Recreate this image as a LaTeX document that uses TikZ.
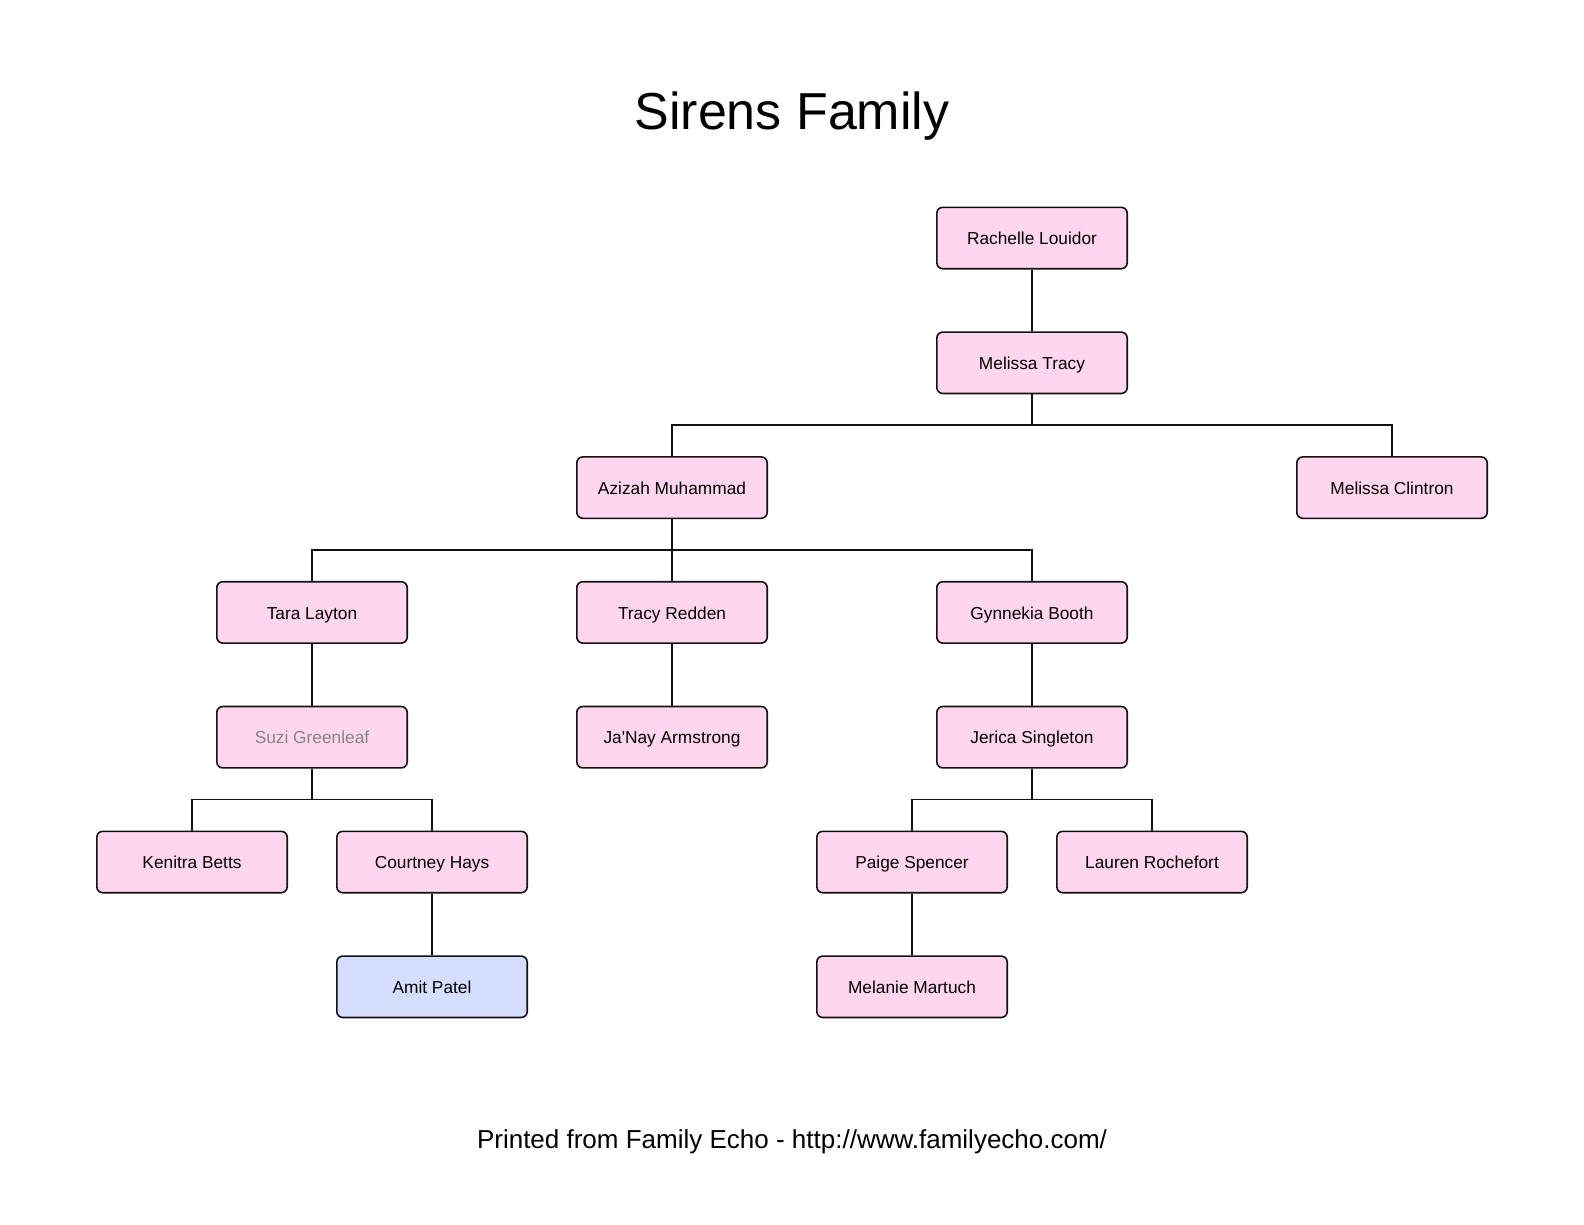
\documentclass[tikz,border=0pt]{standalone}
\usepackage{fontspec}
\setmainfont{Liberation Sans}
\definecolor{pinkfill}{HTML}{FFD6EE}
\definecolor{bluefill}{HTML}{D6DEFF}
\definecolor{linecol}{HTML}{111111}
\definecolor{grayname}{HTML}{858585}
\begin{document}
\begin{tikzpicture}[x=1pt,y=-1pt,
  person/.style={draw=linecol, line width=1.6pt, rounded corners=6pt, fill=pinkfill,
    minimum width=190.4pt, minimum height=61.4pt, inner sep=0pt,
    text height=13.5pt, text depth=0pt,
    font=\fontsize{17.3}{20}\selectfont},
  male/.style={person, fill=bluefill},
  link/.style={draw=linecol, line width=1.6pt}]
\useasboundingbox (0,0) rectangle (1584,1224);

\node[font=\fontsize{52}{60}\selectfont] (title) at (792,116) {Sirens Family};
\node[font=\fontsize{26}{30}\selectfont] (footer) at (792,1142) {Printed from Family Echo - http://www.familyecho.com/};

\node[person] (rachelle) at (1032,238) {Rachelle Louidor};
\node[person] (mtracy) at (1032,362.8) {Melissa Tracy};
\node[person] (azizah) at (672,487.6) {Azizah Muhammad};
\node[person] (clintron) at (1392,487.6) {Melissa Clintron};
\node[person] (tara) at (312,612.4) {Tara Layton};
\node[person] (tredden) at (672,612.4) {Tracy Redden};
\node[person] (gynnekia) at (1032,612.4) {Gynnekia Booth};
\node[person, text=grayname] (suzi) at (312,737.2) {Suzi Greenleaf};
\node[person] (janay) at (672,737.2) {Ja\textquotesingle Nay Armstrong};
\node[person] (jerica) at (1032,737.2) {Jerica Singleton};
\node[person] (kenitra) at (192,862) {Kenitra Betts};
\node[person] (courtney) at (432,862) {Courtney Hays};
\node[person] (paige) at (912,862) {Paige Spencer};
\node[person] (lauren) at (1152,862) {Lauren Rochefort};
\node[male] (amit) at (432,986.8) {Amit Patel};
\node[person] (melanie) at (912,986.8) {Melanie Martuch};

\coordinate (b1) at (1032,425.2);
\coordinate (b2) at (672,550);
\coordinate (b3) at (312,799.6);
\coordinate (b4) at (1032,799.6);

\draw[link] (rachelle) -- (mtracy);
\draw[link] (mtracy.south) -- (b1);
\draw[link] (azizah.north) |- (b1) -| (clintron.north);
\draw[link] (azizah.south) -- (tredden.north);
\draw[link] (tara.north) |- (b2) -| (gynnekia.north);
\draw[link] (tara) -- (suzi);
\draw[link] (tredden) -- (janay);
\draw[link] (gynnekia) -- (jerica);
\draw[link] (suzi.south) -- (b3);
\draw[link] (kenitra.north) |- (b3) -| (courtney.north);
\draw[link] (jerica.south) -- (b4);
\draw[link] (paige.north) |- (b4) -| (lauren.north);
\draw[link] (courtney) -- (amit);
\draw[link] (paige) -- (melanie);
\end{tikzpicture}
\end{document}
